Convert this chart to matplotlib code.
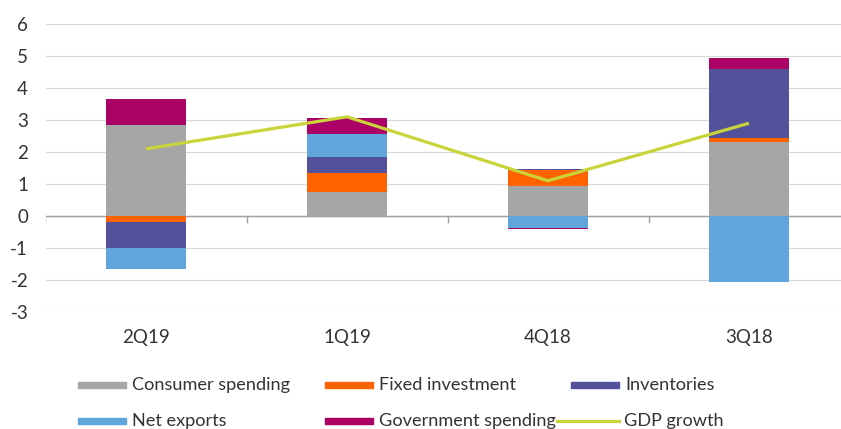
import numpy as np
import matplotlib
matplotlib.use("Agg")
import matplotlib.pyplot as plt
from matplotlib.patches import Rectangle
from matplotlib.lines import Line2D

plt.rcParams['font.family'] = ['Lato', 'DejaVu Sans']

# contributions to GDP growth, percentage points
quarters = ['2Q19', '1Q19', '4Q18', '3Q18']
consumer = [2.84, 0.76, 0.95, 2.31]
fixed_inv = [-0.18, 0.58, 0.48, 0.13]
inventories = [-0.83, 0.49, 0.04, 2.15]
net_exports = [-0.65, 0.74, -0.36, -2.06]
government = [0.82, 0.49, -0.05, 0.34]
gdp_growth = [2.1, 3.1, 1.1, 2.9]

series = [
    ('Consumer spending', consumer, '#A6A6A6'),
    ('Fixed investment', fixed_inv, '#FF6200'),
    ('Inventories', inventories, '#525199'),
    ('Net exports', net_exports, '#60A5DB'),
    ('Government spending', government, '#AB0066'),
]
gdp_color = '#C9D43A'
txt_color = '#333333'
fs = 13.5
legend_fs = 13.1

W, H = 841, 429
fig = plt.figure(figsize=(W / 100, H / 100), dpi=100)
# axes runs a little past the right edge
ax = fig.add_axes([45.5 / W, 1 - 312 / H, 804 / W, 288 / H])

x = np.arange(len(quarters))
pos = np.zeros(len(x))
neg = np.zeros(len(x))
for name, vals, col in series:
    v = np.array(vals)
    bottom = np.where(v >= 0, pos, neg)
    ax.bar(x, v, width=0.4, bottom=bottom, color=col, zorder=3)
    pos = pos + np.where(v >= 0, v, 0)
    neg = neg + np.where(v < 0, v, 0)

ax.plot(x, gdp_growth, color=gdp_color, lw=2.3, zorder=4, solid_capstyle='butt')

ax.set_xlim(-0.5, len(x) - 0.5)
ax.set_ylim(-3, 6)
ax.set_yticks(range(-3, 7))
ax.set_yticklabels([str(t) for t in range(-3, 7)])
ax.yaxis.grid(True, color='#D9D9D9', lw=0.9, zorder=0)
ax.set_axisbelow(True)
ax.axhline(0, color='#A0A0A0', lw=1.0, zorder=2)
# category separator ticks hanging off the zero line
ax.vlines(np.arange(len(x)) - 0.5, -0.22, 0, color='#A0A0A0', lw=1.0, zorder=2)

ax.set_xticks(x)
ax.set_xticklabels(quarters)
ax.tick_params(axis='both', length=0, labelsize=fs, colors=txt_color)
ax.tick_params(axis='y', pad=12.5)
ax.tick_params(axis='x', pad=12)
for s in ax.spines.values():
    s.set_visible(False)

# legend laid out in two rows, three entries each
entries = [
    (78, 385, 'Consumer spending', '#A6A6A6', 'patch'),
    (325, 385, 'Fixed investment', '#FF6200', 'patch'),
    (571, 385, 'Inventories', '#525199', 'patch'),
    (78, 421, 'Net exports', '#60A5DB', 'patch'),
    (325, 421, 'Government spending', '#AB0066', 'patch'),
    (557, 421, 'GDP growth', gdp_color, 'line'),
]
for px, py, label, col, kind in entries:
    if kind == 'patch':
        fig.patches.append(Rectangle((px / W, 1 - (py + 3) / H), 48 / W, 6 / H,
                                     transform=fig.transFigure, color=col))
        tx = px + 54
    else:
        fig.lines.append(Line2D([px / W, (px + 62) / W], [1 - py / H, 1 - py / H],
                                transform=fig.transFigure, color=col, lw=2.3))
        tx = px + 67
    fig.text(tx / W, 1 - py / H, label, fontsize=legend_fs, color=txt_color,
             va='center', ha='left')

fig.savefig('out.png', dpi=100, facecolor='white')
